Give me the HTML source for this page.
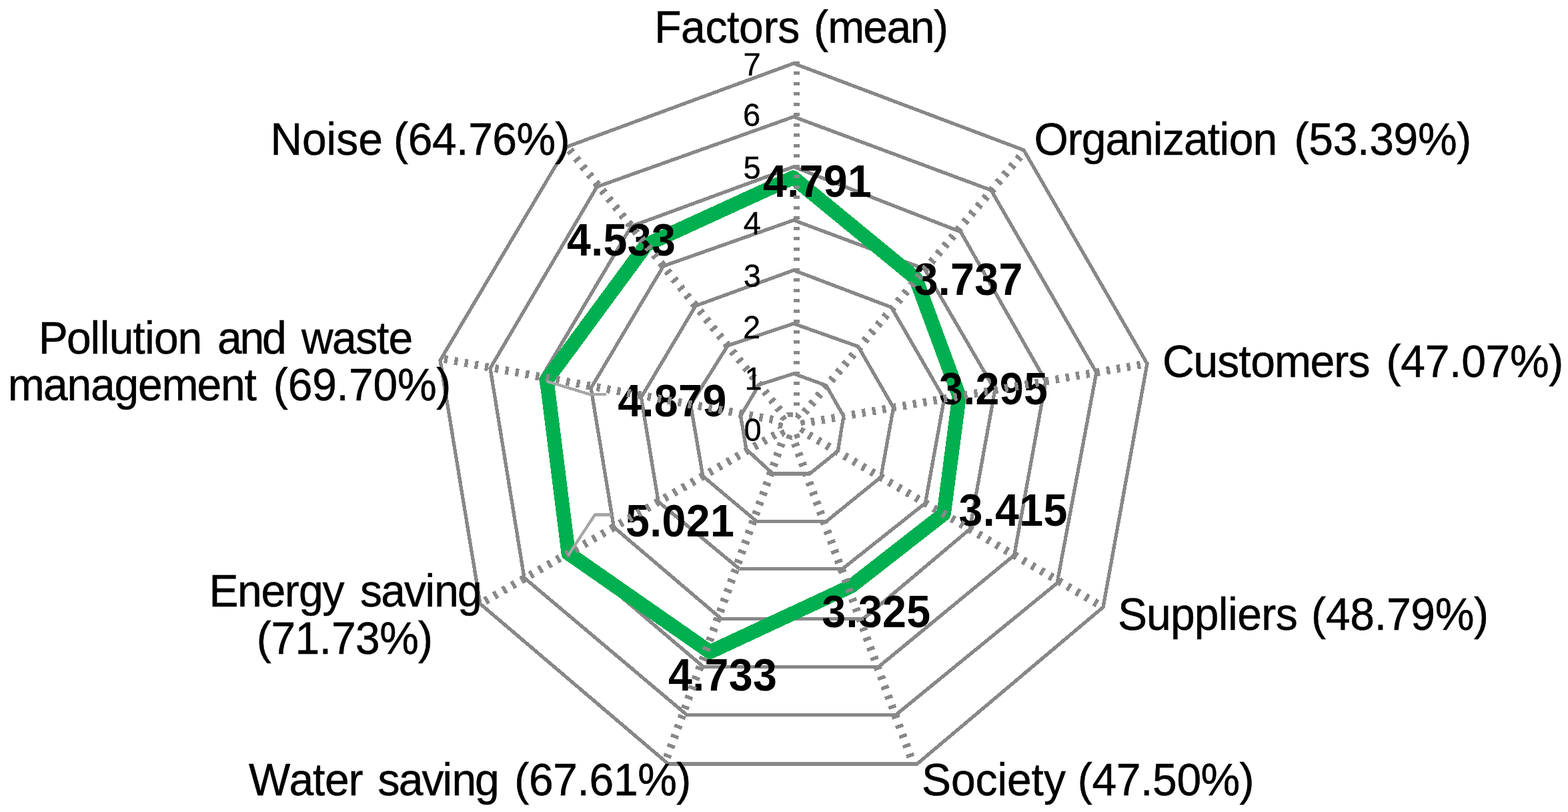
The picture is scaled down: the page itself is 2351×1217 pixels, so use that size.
<!DOCTYPE html>
<html lang="en">
<head>
<meta charset="utf-8">
<title>Factors radar chart</title>
<style>
html,body{margin:0;padding:0;background:#fff;}
body{width:2351px;height:1217px;overflow:hidden;}
svg{display:block;}
text{font-family:"Liberation Sans",Arial,Helvetica,sans-serif;fill:#000;}
.cat{font-size:66px;stroke:#000;stroke-width:0.5px;}
.tick{font-size:47px;stroke:#000;stroke-width:0.4px;}
.val{font-size:64.5px;font-weight:bold;}
</style>
</head>
<body>
<svg width="2351" height="1217" viewBox="0 0 2351 1217" shape-rendering="crispEdges">
<rect width="2351" height="1217" fill="#fff"/>
<g stroke="#888888" stroke-width="5.3" fill="none" stroke-linejoin="miter">
<polygon points="1190.0,560.0 1238.8,577.8 1264.9,623.7 1256.3,676.0 1214.0,710.1 1158.8,710.1 1119.0,673.4 1110.5,623.5 1138.0,576.7"/>
<polygon points="1190.0,485.0 1286.8,519.4 1339.6,610.9 1320.8,715.1 1238.8,781.6 1134.6,781.6 1053.9,713.7 1035.5,606.5 1091.1,518.0"/>
<polygon points="1190.0,405.0 1336.4,460.5 1415.7,597.7 1387.4,754.1 1263.3,852.5 1108.5,852.5 987.1,752.0 961.4,595.5 1042.9,458.4"/>
<polygon points="1190.0,330.0 1386.1,403.0 1491.8,584.5 1454.1,793.1 1294.6,927.4 1081.5,927.4 920.4,790.2 886.1,581.7 994.6,398.8"/>
<polygon points="1190.0,250.0 1440.5,347.5 1567.9,571.3 1520.7,832.1 1317.5,999.3 1054.5,999.3 853.6,828.5 810.7,567.8 946.4,339.2"/>
<polygon points="1190.0,175.0 1486.0,285.0 1643.9,558.2 1585.0,874.0 1343.5,1071.2 1029.5,1071.2 786.0,866.0 735.0,552.0 895.0,280.0"/>
<polygon points="1190.0,95.0 1535.0,225.0 1720.0,545.0 1654.0,910.0 1375.0,1145.0 1002.0,1145.0 720.0,905.0 660.0,540.0 850.0,220.0"/>
</g>
<polygon points="1189.2,266.1 1373.0,417.1 1438.2,593.8 1415.1,770.3 1276.6,878.4 1064.5,977.2 852.2,829.3 819.8,569.5 968.9,367.0" fill="none" stroke="#00b050" stroke-width="21.5" stroke-linejoin="round"/>
<text class="val" transform="translate(0 295.1) scale(1 1.06)" x="1143.9 1180.2 1198.4 1234.7 1271.0" y="0">4.791</text>
<text class="val" transform="translate(0 442.4) scale(1 1.06)" x="1370.5 1406.8 1425.0 1461.3 1497.6" y="0">3.737</text>
<text class="val" transform="translate(0 605.7) scale(1 1.06)" x="1408.0 1444.3 1462.5 1498.8 1535.1" y="0">3.295</text>
<text class="val" transform="translate(0 788.2) scale(1 1.06)" x="1437.5 1473.8 1492.0 1528.3 1564.6" y="0">3.415</text>
<text class="val" transform="translate(0 939.7) scale(1 1.06)" x="1232.2 1268.5 1286.7 1323.0 1359.3" y="0">3.325</text>
<text class="val" transform="translate(0 1035.2) scale(1 1.06)" x="1002.0 1038.3 1056.5 1092.8 1129.1" y="0">4.733</text>
<text class="val" transform="translate(0 804.2) scale(1 1.06)" x="938.0 974.3 992.5 1028.8 1065.1" y="0">5.021</text>
<text class="val" transform="translate(0 623.7) scale(1 1.06)" x="926.3 962.6 980.8 1017.1 1053.4" y="0">4.879</text>
<text class="val" transform="translate(0 382.5) scale(1 1.06)" x="850.0 886.3 904.5 940.8 977.1" y="0">4.533</text>
<g stroke="#888888" fill="none">
<line x1="1194.0" y1="608.2" x2="1194.0" y2="91.9" stroke-width="9" stroke-dasharray="4.8 10.7"/>
<line x1="1206.2" y1="618.0" x2="1529.3" y2="234.8" stroke-width="12" stroke-dasharray="5.3 10.2"/>
<line x1="1216.1" y1="632.3" x2="1710.0" y2="546.7" stroke-width="12" stroke-dasharray="5.3 10.2"/>
<line x1="1212.5" y1="651.8" x2="1645.3" y2="904.9" stroke-width="12" stroke-dasharray="5.3 10.2"/>
<line x1="1191.9" y1="664.4" x2="1365.6" y2="1134.7" stroke-width="12" stroke-dasharray="5.3 10.2"/>
<line x1="1172.0" y1="664.4" x2="1000.0" y2="1135.3" stroke-width="12" stroke-dasharray="5.3 10.2"/>
<line x1="1162.3" y1="651.6" x2="727.3" y2="900.8" stroke-width="12" stroke-dasharray="5.3 10.2"/>
<line x1="1159.0" y1="628.9" x2="666.0" y2="538.1" stroke-width="12" stroke-dasharray="5.3 10.2"/>
<line x1="1169.3" y1="614.7" x2="854.0" y2="224.9" stroke-width="12" stroke-dasharray="5.3 10.2"/>
</g>
<polygon points="1193.5,621.4 1202.9,629.3 1205.0,641.4 1198.9,652.1 1187.3,656.3 1175.7,652.1 1169.6,641.4 1171.7,629.3 1181.1,621.4" fill="none" stroke="#888888" stroke-width="6.5" stroke-dasharray="8.3 4"/>
<g stroke="#a6a6a6" stroke-width="4.3" fill="none" stroke-linejoin="miter">
<polyline points="820,571.5 885,591.3 909,591.3"/>
<polyline points="852,832.3 892,771.4 917,771.4"/>
</g>
<text class="tick" transform="translate(0 112.9) scale(1 1.03)" x="1114.5" y="0">7</text>
<text class="tick" transform="translate(0 189.2) scale(1 1.03)" x="1114.1" y="0">6</text>
<text class="tick" transform="translate(0 268.3) scale(1 1.03)" x="1114.6" y="0">5</text>
<text class="tick" transform="translate(0 351.3) scale(1 1.03)" x="1114.7" y="0">4</text>
<text class="tick" transform="translate(0 429.8) scale(1 1.03)" x="1114.7" y="0">3</text>
<text class="tick" transform="translate(0 506.8) scale(1 1.03)" x="1114.1" y="0">2</text>
<text class="tick" transform="translate(0 583.7) scale(1 1.03)" x="1116.4" y="0">1</text>
<text class="tick" transform="translate(0 660.9) scale(1 1.03)" x="1115.6" y="0">0</text>
<text class="cat" transform="translate(0 64.2) scale(1 1.04)" x="981.2 1021.1 1057.4 1090.0 1108.1 1144.4 1166.2 1198.8 1220.1 1241.3 1294.2 1329.5 1364.8 1400.1" y="0">Factors (mean)</text>
<text class="cat" transform="translate(0 232.2) scale(1 1.04)" x="1550.6 1600.5 1621.8 1657.5 1693.1 1728.8 1743.0 1775.1 1810.8 1828.6 1842.8 1878.5 1914.1 1940.5 1962.3 1998.7 2035.1 2053.3 2089.6 2126.0 2184.2" y="0">Organization (53.39%)</text>
<text class="cat" transform="translate(0 564.5) scale(1 1.04)" x="1743.0 1789.5 1825.2 1857.3 1875.2 1910.9 1964.4 2000.2 2021.6 2053.7 2078.5 2100.3 2136.7 2173.1 2191.3 2227.6 2264.0 2322.2" y="0">Customers (47.07%)</text>
<text class="cat" transform="translate(0 943.8) scale(1 1.04)" x="1676.1 1719.1 1755.0 1790.8 1826.7 1841.0 1855.3 1891.2 1912.7 1944.9 1966.0 1987.8 2024.3 2060.7 2078.9 2115.3 2151.8 2210.0" y="0">Suppliers (48.79%)</text>
<text class="cat" transform="translate(0 1191.8) scale(1 1.04)" x="1382.0 1425.9 1462.5 1495.4 1510.0 1546.6 1564.9 1597.8 1615.8 1637.5 1673.8 1710.0 1728.1 1764.4 1800.6 1858.6" y="0">Society (47.50%)</text>
<text class="cat" transform="translate(0 1191.9) scale(1 1.04)" x="373.0 433.5 469.1 486.9 522.5 543.8 566.6 597.7 632.4 663.5 677.4 712.0 746.7 771.2 792.9 829.2 865.5 883.6 919.9 956.2 1014.2" y="0">Water saving (67.61%)</text>
<text class="cat" transform="translate(0 909.4) scale(1 1.04)" x="313.4 355.9 391.4 426.8 448.1 483.5 515.4 540.1 571.3 606.1 637.4 651.3 686.0" y="0">Energy saving</text>
<text class="cat" transform="translate(0 980.3) scale(1 1.04)" x="384.7 406.4 442.6 478.8 496.9 533.0 569.2 627.1" y="0">(71.73%)</text>
<text class="cat" transform="translate(0 529.8) scale(1 1.04)" x="57.7 100.1 135.5 149.7 163.8 199.2 216.9 231.0 266.4 301.8 325.9 359.5 393.1 426.8 452.1 497.9 533.2 565.0 582.6" y="0">Pollution and waste</text>
<text class="cat" transform="translate(0 600.3) scale(1 1.04)" x="11.7 64.9 100.4 135.9 171.4 206.9 242.4 295.6 331.1 366.6 384.4 409.8 431.7 468.2 504.6 522.9 559.4 595.9 654.2" y="0">management (69.70%)</text>
<text class="cat" transform="translate(0 231.9) scale(1 1.04)" x="405.4 453.0 489.6 504.3 537.2 573.9 590.0 611.7 647.9 684.1 702.2 738.3 774.5 832.4" y="0">Noise (64.76%)</text>
</svg>
</body>
</html>
